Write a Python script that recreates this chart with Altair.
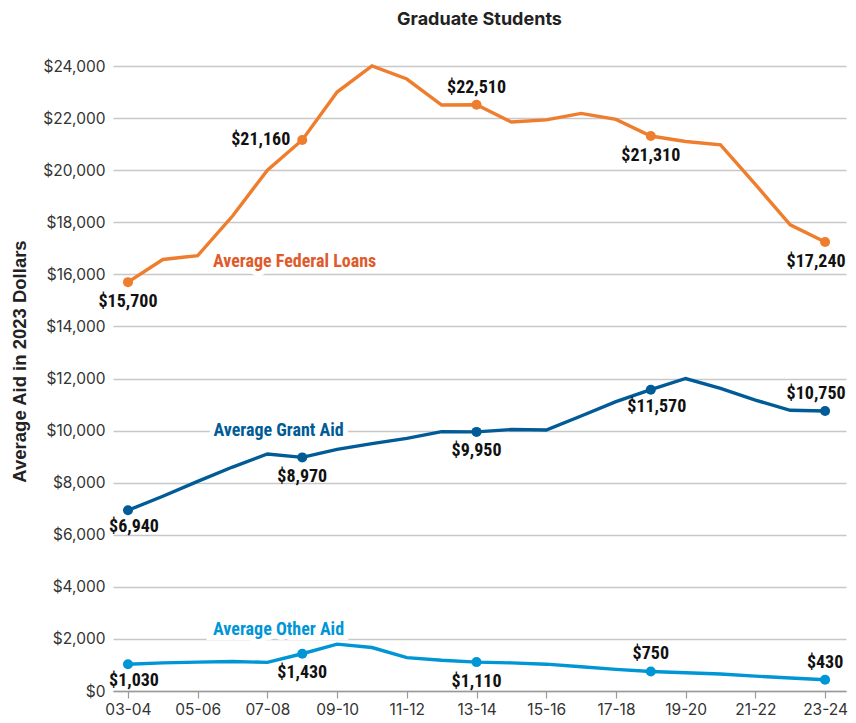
import altair as alt
import pandas as pd

years = ["03-04", "04-05", "05-06", "06-07", "07-08", "08-09", "09-10", "10-11",
         "11-12", "12-13", "13-14", "14-15", "15-16", "16-17", "17-18", "18-19",
         "19-20", "20-21", "21-22", "22-23", "23-24"]

federal_loans = [15700, 16570, 16720, 18240, 20000, 21160, 23000, 24000, 23500, 22500,
                 22510, 21850, 21930, 22180, 21950, 21310, 21100, 20970, 19450, 17900, 17240]
grant_aid = [6940, 7480, 8050, 8600, 9100, 8970, 9280, 9500, 9700, 9960,
             9950, 10040, 10020, 10560, 11110, 11570, 12000, 11620, 11170, 10780, 10750]
other_aid = [1030, 1080, 1110, 1130, 1100, 1430, 1800, 1670, 1280, 1180,
             1110, 1080, 1030, 930, 830, 750, 700, 650, 570, 500, 430]

series_names = ["Average Federal Loans", "Average Grant Aid", "Average Other Aid"]
marked_years = ["03-04", "08-09", "13-14", "18-19", "23-24"]

# label placement for each marked point (style, not data)
label_place = {
    "Average Federal Loans": ["below", "left", "above", "below", "belowend"],
    "Average Grant Aid": ["belowright", "below", "below", "belowright", "aboveend"],
    "Average Other Aid": ["belowright", "below", "below", "above", "above"],
}

line_colors = ["#EE7D2E", "#005B96", "#0096D6"]
label_colors = ["#E05A2B", "#005B96", "#0096D6"]

rows = []
for name, vals in zip(series_names, [federal_loans, grant_aid, other_aid]):
    for i, (yr, v) in enumerate(zip(years, vals)):
        rows.append({"series": name, "idx": i, "year": yr, "value": v})
df = pd.DataFrame(rows)

pts = df[df["year"].isin(marked_years)].copy()
pts["place"] = [p for name in series_names for p in label_place[name]]
pts["label"] = pts["value"].map(lambda v: "${:,}".format(int(v)))

# series name annotations (position in data units)
ann = pd.DataFrame({
    "series": series_names,
    "ax": [4.78, 4.32, 4.32],
    "ay": [16470, 10000, 2330],
})

color_scale = alt.Scale(domain=series_names, range=line_colors)
label_expr = "[" + ",".join("'" + y + "'" for y in years) + "][datum.value]"

x_enc = alt.X("idx:Q", scale=alt.Scale(domain=[-0.43, 20.6], nice=False, zero=False),
              axis=alt.Axis(values=list(range(0, 21, 2)), labelExpr=label_expr, title=None,
                            grid=False, domain=True, domainColor="#9a9a9a", domainWidth=1.5,
                            ticks=True, tickColor="#9a9a9a", tickSize=7, tickWidth=1.2,
                            labelFont="Inter", labelFontSize=15.5, labelColor="#333333",
                            labelPadding=4, labelFlush=False))
y_enc = alt.Y("value:Q", scale=alt.Scale(domain=[0, 24000], nice=False),
              axis=alt.Axis(values=list(range(0, 24001, 2000)), format="$,d",
                            title="Average Aid in 2023 Dollars", titleFont="Liberation Sans",
                            titleFontSize=18.5, titleFontWeight="bold", titleColor="#222222",
                            titleX=-87.5, titleY=295, titleAlign="center", titleBaseline="alphabetic",
                            titleAngle=270,
                            grid=True, gridColor="#c8c8c8", gridWidth=1.3,
                            domain=False, ticks=False, labelPadding=8,
                            labelFont="Inter", labelFontSize=15.5, labelColor="#333333"))

base = alt.Chart(df)
lines = base.mark_line(strokeWidth=3.4).encode(
    x=x_enc, y=y_enc,
    color=alt.Color("series:N", scale=color_scale, legend=None),
    detail="series:N",
)
points = alt.Chart(pts).mark_point(filled=True, size=100, opacity=1).encode(
    x="idx:Q", y="value:Q",
    color=alt.Color("series:N", scale=color_scale, legend=None),
)

FONT = "Roboto Condensed, DejaVu Sans Condensed, Roboto"
VFS = 18

def lbl(place, **kw):
    return alt.Chart(pts).transform_filter(alt.datum.place == place).mark_text(
        font=FONT, fontWeight="bold", fontSize=VFS, color="#111111", **kw
    ).encode(x="idx:Q", y="value:Q", text="label:N")

lab_below = lbl("below", dy=19.5, baseline="middle", align="center")
lab_belowr = lbl("belowright", dy=17, dx=6, baseline="middle", align="center")
lab_belowe = lbl("belowend", dy=19.5, dx=-9, baseline="middle", align="center")
lab_above = lbl("above", dy=-17, baseline="middle", align="center")
lab_abovee = lbl("aboveend", dy=-17, dx=-9, baseline="middle", align="center")
lab_left = lbl("left", dx=-12, baseline="middle", align="right")

ann_halo = alt.Chart(ann).mark_text(
    font=FONT, fontWeight="bold", fontSize=18, stroke="white", strokeWidth=10,
    baseline="middle", align="center", color="white"
).encode(x="ax:Q", y="ay:Q", text="series:N")
ann_text = alt.Chart(ann).mark_text(
    font=FONT, fontWeight="bold", fontSize=18, baseline="middle", align="center"
).encode(
    x="ax:Q", y="ay:Q", text="series:N",
    color=alt.Color("series:N", scale=alt.Scale(domain=series_names, range=label_colors), legend=None),
)

chart = alt.layer(
    lines, ann_halo, ann_text, points, lab_below, lab_belowr, lab_belowe,
    lab_above, lab_abovee, lab_left
).resolve_scale(color="independent").properties(
    width=733, height=625,
    title=alt.TitleParams("Graduate Students", font="Inter", fontSize=18, fontWeight="bold",
                          color="#222222", anchor="middle", offset=30),
    autosize=alt.AutoSizeParams(type="none"),
    padding={"left": 105, "top": 58, "right": 2, "bottom": 32},
).configure_view(stroke=None)

chart.save("out.html", embed_options={"renderer": "svg", "actions": False})
